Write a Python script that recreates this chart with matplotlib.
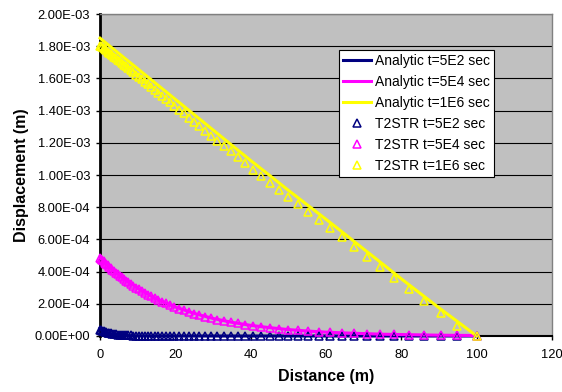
import numpy as np
import matplotlib
matplotlib.use("Agg")
import matplotlib.pyplot as plt
from matplotlib.ticker import FuncFormatter

plt.rcParams['font.family'] = ['Liberation Sans', 'DejaVu Sans']

# Analytic solutions (displacement in 1e-3 m)
line_x = [0, 1, 2, 3, 4, 5, 6, 8, 10, 12, 15, 20, 25, 30, 35, 40, 45, 50,
          55, 60, 65, 70, 75, 80, 85, 90, 95, 100]
analytic_5e2 = [0.050, 0.030, 0.019, 0.012, 0.008, 0.005, 0.003, 0.001, 0.0005, 0,
                0, 0, 0, 0, 0, 0, 0, 0, 0, 0, 0, 0, 0, 0, 0, 0, 0, 0]
analytic_5e4 = [0.490, 0.466, 0.443, 0.422, 0.401, 0.382, 0.363, 0.328, 0.297, 0.269,
                0.231, 0.180, 0.140, 0.109, 0.085, 0.066, 0.052, 0.040, 0.031, 0.024,
                0.019, 0.015, 0.011, 0.009, 0.007, 0.005, 0.004, 0.003]
analytic_1e6 = [1.850, 1.831, 1.812, 1.793, 1.774, 1.755, 1.736, 1.698, 1.660, 1.622,
                1.565, 1.470, 1.375, 1.280, 1.185, 1.090, 0.998, 0.905, 0.815, 0.725,
                0.633, 0.540, 0.448, 0.355, 0.265, 0.175, 0.088, 0.0]

# T2STR results (displacement in 1e-3 m)
t2_x = [0, 0.3, 0.61, 0.94, 1.29, 1.64, 2.02, 2.41, 2.82, 3.25, 3.7, 4.17, 4.66,
        5.18, 5.72, 6.28, 6.87, 7.49, 8.13, 8.8, 9.51, 10.25, 11.02, 11.82, 12.67,
        13.55, 14.47, 15.44, 16.45, 17.51, 18.61, 19.77, 20.98, 22.24, 23.56, 24.95,
        26.4, 27.9, 29.5, 31.15, 32.9, 34.7, 36.6, 38.6, 40.65, 42.8, 45.1, 47.5,
        49.9, 52.5, 55.3, 58.1, 61.1, 64.2, 67.4, 70.8, 74.4, 78.1, 82.0, 86.1,
        90.4, 94.8, 100]
t2_5e2 = [0.040, 0.036, 0.032, 0.029, 0.026, 0.023, 0.020, 0.018, 0.016, 0.014,
          0.012, 0.010, 0.009, 0.008, 0.007, 0.006, 0.005, 0.004, 0.004, 0.003,
          0.003, 0.002, 0.002, 0.002, 0.001, 0.001, 0.001, 0.001, 0, 0,
          0, 0, 0, 0, 0, 0, 0, 0, 0, 0, 0, 0, 0, 0, 0, 0, 0, 0, 0, 0,
          0, 0, 0, 0, 0, 0, 0, 0, 0, 0, 0, 0, 0]
t2_5e4 = [0.485, 0.478, 0.470, 0.463, 0.455, 0.447, 0.438, 0.430, 0.421, 0.412,
          0.403, 0.394, 0.384, 0.374, 0.364, 0.354, 0.344, 0.333, 0.323, 0.312,
          0.301, 0.290, 0.280, 0.269, 0.257, 0.246, 0.235, 0.224, 0.213, 0.202,
          0.191, 0.180, 0.170, 0.160, 0.149, 0.139, 0.130, 0.120, 0.111, 0.102,
          0.094, 0.086, 0.078, 0.070, 0.064, 0.057, 0.051, 0.045, 0.040, 0.035,
          0.031, 0.027, 0.023, 0.020, 0.017, 0.014, 0.012, 0.010, 0.008, 0.007,
          0.005, 0.004, 0.003]
t2_1e6 = [1.800, 1.799, 1.793, 1.787, 1.780, 1.774, 1.767, 1.759, 1.751, 1.743,
          1.735, 1.726, 1.716, 1.707, 1.696, 1.686, 1.674, 1.663, 1.651, 1.638,
          1.624, 1.610, 1.596, 1.580, 1.564, 1.548, 1.530, 1.512, 1.492, 1.472,
          1.451, 1.429, 1.406, 1.382, 1.357, 1.331, 1.303, 1.275, 1.244, 1.213,
          1.180, 1.146, 1.110, 1.072, 1.033, 0.993, 0.951, 0.906, 0.862, 0.820,
          0.770, 0.720, 0.668, 0.612, 0.553, 0.492, 0.427, 0.360, 0.290, 0.217,
          0.140, 0.064, 0.0]

colors = {'5E2': '#000080', '5E4': '#FF00FF', '1E6': '#FFFF00'}

fig = plt.figure(figsize=(5.62, 3.92), dpi=100)
ax = fig.add_axes([100 / 562, 56 / 392, 452 / 562, 322 / 392])
ax.set_facecolor('#C0C0C0')

scale = 1e-3
lx = np.array(line_x)
tx = np.array(t2_x)
for key, vals in [('5E2', analytic_5e2), ('5E4', analytic_5e4), ('1E6', analytic_1e6)]:
    ax.plot(lx, np.array(vals) * scale, color=colors[key], lw=2.2,
            label=f'Analytic t={key} sec', clip_on=False, zorder=3)
for key, vals in [('5E2', t2_5e2), ('5E4', t2_5e4), ('1E6', t2_1e6)]:
    ax.plot(tx, np.array(vals) * scale, linestyle='none', marker='^', ms=5.5,
            mfc='none', mec=colors[key], mew=1.1,
            label=f'T2STR t={key} sec', clip_on=False, zorder=4)

ax.set_xlim(0, 120)
ax.set_ylim(0, 2e-3)
ax.set_xticks(np.arange(0, 121, 20))
ax.set_yticks(np.arange(0, 2.01e-3, 0.2e-3))
ax.yaxis.set_major_formatter(FuncFormatter(lambda v, _: f'{v:.2E}'))
ax.tick_params(direction='out', length=3, width=1, labelsize=9.3, color='black')
ax.tick_params(axis='x', pad=6)
ax.tick_params(axis='y', pad=4)

ax.yaxis.grid(True, color='black', lw=0.8)
ax.set_axisbelow(True)
ax.spines['top'].set_color('#808080')
ax.spines['right'].set_color('#808080')
ax.spines['top'].set_linewidth(1)
ax.spines['right'].set_linewidth(1)
ax.spines['left'].set_linewidth(2)
ax.spines['bottom'].set_linewidth(1.5)

ax.set_xlabel('Distance (m)', fontsize=11.5, fontweight='bold', labelpad=6)
ax.set_ylabel('Displacement (m)', fontsize=11.5, fontweight='bold', labelpad=4)

leg = ax.legend(loc='upper right', bbox_to_anchor=(0.872, 0.888), borderaxespad=0,
                fontsize=10, handlelength=2.0, handletextpad=0.3, labelspacing=0.5,
                borderpad=0.3, fancybox=False, framealpha=1, edgecolor='black',
                numpoints=1)
leg.get_frame().set_linewidth(0.8)

fig.savefig('out.png', dpi=100)
